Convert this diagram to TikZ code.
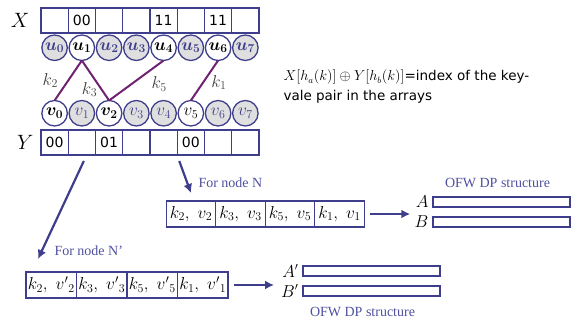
\documentclass[tikz,border=0pt]{standalone}
\usepackage{fontspec}
\usepackage{bm}
\usepackage{tikz}
\usetikzlibrary{positioning, arrows.meta}
\newfontfamily\notefont{DejaVu Sans}
\newfontfamily\labelfont{Liberation Serif}
\definecolor{slotblue}{RGB}{62,62,140}
\definecolor{edgepurple}{RGB}{112,34,112}
\definecolor{capblue}{RGB}{80,80,160}
\begin{document}
\begin{tikzpicture}
  [x=1pt,y=-1pt,
   slot/.style={draw=slotblue,line width=1.3pt,rectangle,inner sep=0pt,outer sep=0pt,minimum width=27.25pt,minimum height=25pt,font=\notefont\fontsize{14}{14}\selectfont},
   bucket/.style={draw=slotblue,line width=1.3pt,circle,inner sep=0pt,outer sep=0pt,minimum size=25.5pt,fill=gray!25,text=slotblue,font=\fontsize{17}{17}\selectfont},
   hitbucket/.style={bucket,fill=white,text=black},
   pairbox/.style={slot,minimum width=49.5pt,minimum height=26pt,font=\fontsize{17}{17}\selectfont},
   dpbar/.style={draw=slotblue,line width=1.3pt,rectangle,inner sep=0pt,outer sep=0pt,minimum width=137pt,minimum height=10pt},
   keyedge/.style={draw=edgepurple,line width=2pt},
   keylabel/.style={text=black!75,font=\fontsize{17}{17}\selectfont},
   flow/.style={draw=slotblue,line width=2.2pt,-{Latex[length=9pt,width=9pt]}},
   caption/.style={text=capblue,font=\labelfont\fontsize{14}{14}\selectfont},
   arrayname/.style={font=\fontsize{21}{21}\selectfont}]
  \useasboundingbox (0,0) rectangle (579,326);
  % array X
  \node (xslot0) at (54.6,20.5) [slot] {};
  \node (xslot1) [slot,right=0pt of xslot0] {00};
  \node (xslot2) [slot,right=0pt of xslot1] {};
  \node (xslot3) [slot,right=0pt of xslot2] {};
  \node (xslot4) [slot,right=0pt of xslot3] {11};
  \node (xslot5) [slot,right=0pt of xslot4] {};
  \node (xslot6) [slot,right=0pt of xslot5] {11};
  \node (xslot7) [slot,right=0pt of xslot6] {};
  \node (xname) [arrayname,left=8pt of xslot0] {$X$};
  % buckets u
  \node (unode0) [bucket,below=2pt of xslot0] {$\bm{u}_{\bm{0}}$};
  \node (unode1) [hitbucket,below=2pt of xslot1] {$\bm{u}_{\bm{1}}$};
  \node (unode2) [bucket,below=2pt of xslot2] {$\bm{u}_{\bm{2}}$};
  \node (unode3) [bucket,below=2pt of xslot3] {$\bm{u}_{\bm{3}}$};
  \node (unode4) [hitbucket,below=2pt of xslot4] {$\bm{u}_{\bm{4}}$};
  \node (unode5) [bucket,below=2pt of xslot5] {$\bm{u}_{\bm{5}}$};
  \node (unode6) [hitbucket,below=2pt of xslot6] {$\bm{u}_{\bm{6}}$};
  \node (unode7) [bucket,below=2pt of xslot7] {$\bm{u}_{\bm{7}}$};
  % buckets v
  \node (vnode0) [hitbucket,below=40pt of unode0] {$\bm{v}_{\bm{0}}$};
  \node (vnode1) [bucket,below=40pt of unode1] {$v_1$};
  \node (vnode2) [hitbucket,below=40pt of unode2] {$\bm{v}_{\bm{2}}$};
  \node (vnode3) [bucket,below=40pt of unode3] {$v_3$};
  \node (vnode4) [bucket,below=40pt of unode4] {$v_4$};
  \node (vnode5) [hitbucket,below=40pt of unode5] {$v_5$};
  \node (vnode6) [bucket,below=40pt of unode6] {$v_6$};
  \node (vnode7) [bucket,below=40pt of unode7] {$v_7$};
  % array Y
  \node (yslot0) [slot,below=4pt of vnode0] {00};
  \node (yslot1) [slot,right=0pt of yslot0] {};
  \node (yslot2) [slot,right=0pt of yslot1] {01};
  \node (yslot3) [slot,right=0pt of yslot2] {};
  \node (yslot4) [slot,right=0pt of yslot3] {};
  \node (yslot5) [slot,right=0pt of yslot4] {00};
  \node (yslot6) [slot,right=0pt of yslot5] {};
  \node (yslot7) [slot,right=0pt of yslot6] {};
  \node (yname) [arrayname,left=4pt of yslot0] {$Y$};
  % keys
  \draw [keyedge] (unode1.south) -- (vnode0.north) node [keylabel,pos=.5,left=6pt] {$k_2$};
  \draw [keyedge] (unode1.south) -- (vnode2.north) node [keylabel,pos=.72,anchor=east] {$k_3$};
  \draw [keyedge] (unode4.south) -- (vnode2.north) node [keylabel,pos=.3,anchor=north west] {$k_5$};
  \draw [keyedge] (unode6.south) -- (vnode5.north) node [keylabel,pos=.55,anchor=west,xshift=4pt] {$k_1$};
  \node (keynote) at (280,87) [anchor=west,align=left,font=\notefont\fontsize{13.5}{20}\selectfont] {$X[h_a(k)]\oplus Y[h_b(k)]$=index of the key-\\vale pair in the arrays};
  % node N
  \node (pairn0) at (191,214) [pairbox] {$k_2,\ v_2$};
  \node (pairn1) [pairbox,right=0pt of pairn0] {$k_3,\ v_3$};
  \node (pairn2) [pairbox,right=0pt of pairn1] {$k_5,\ v_5$};
  \node (pairn3) [pairbox,right=0pt of pairn2] {$k_1,\ v_1$};
  \draw [flow] ([xshift=2pt,yshift=-6pt]yslot5.south west) -- ([yshift=8pt]pairn0.north);
  \node (fornode) [caption,above right=10pt and 4pt of pairn0.north] {For node N};
  \node (abar) at (501.5,202) [dpbar] {};
  \node (bbar) [dpbar,below=10pt of abar] {};
  \node (alabel) [font=\fontsize{16}{16}\selectfont,left=1pt of abar] {$A$};
  \node (blabel) [font=\fontsize{16}{16}\selectfont,left=1pt of bbar] {$B$};
  \node (dptitle) [caption,above=6pt of abar,xshift=-4pt] {OFW DP structure};
  \draw [flow] ([xshift=6pt]pairn3.east) -- ([xshift=46pt]pairn3.east);
  % node N'
  \node (pairm0) at (51.25,285) [pairbox,minimum width=50.5pt] {$k_2,\ {v'}_2$};
  \node (pairm1) [pairbox,minimum width=50.5pt,right=0pt of pairm0] {$k_3,\ {v'}_3$};
  \node (pairm2) [pairbox,minimum width=50.5pt,right=0pt of pairm1] {$k_5,\ {v'}_5$};
  \node (pairm3) [pairbox,minimum width=50.5pt,right=0pt of pairm2] {$k_1,\ {v'}_1$};
  \draw [flow] ([xshift=2pt,yshift=-6pt]yslot1.south) -- ([xshift=12pt,yshift=13pt]pairm0.north west);
  \node (fornodeprime) [caption,above right=13pt and 25pt of pairm0.north west] {For node N’};
  \node (aprimebar) at (371.5,271) [dpbar] {};
  \node (bprimebar) [dpbar,below=10pt of aprimebar] {};
  \node (aprimelabel) [font=\fontsize{16}{16}\selectfont,left=1pt of aprimebar] {$A'$};
  \node (bprimelabel) [font=\fontsize{16}{16}\selectfont,left=1pt of bprimebar] {$B'$};
  \node (dpprimetitle) [caption,below=8pt of bprimebar,xshift=-9pt] {OFW DP structure};
  \draw [flow] ([xshift=6pt]pairm3.east) -- ([xshift=46pt]pairm3.east);
\end{tikzpicture}
\end{document}
